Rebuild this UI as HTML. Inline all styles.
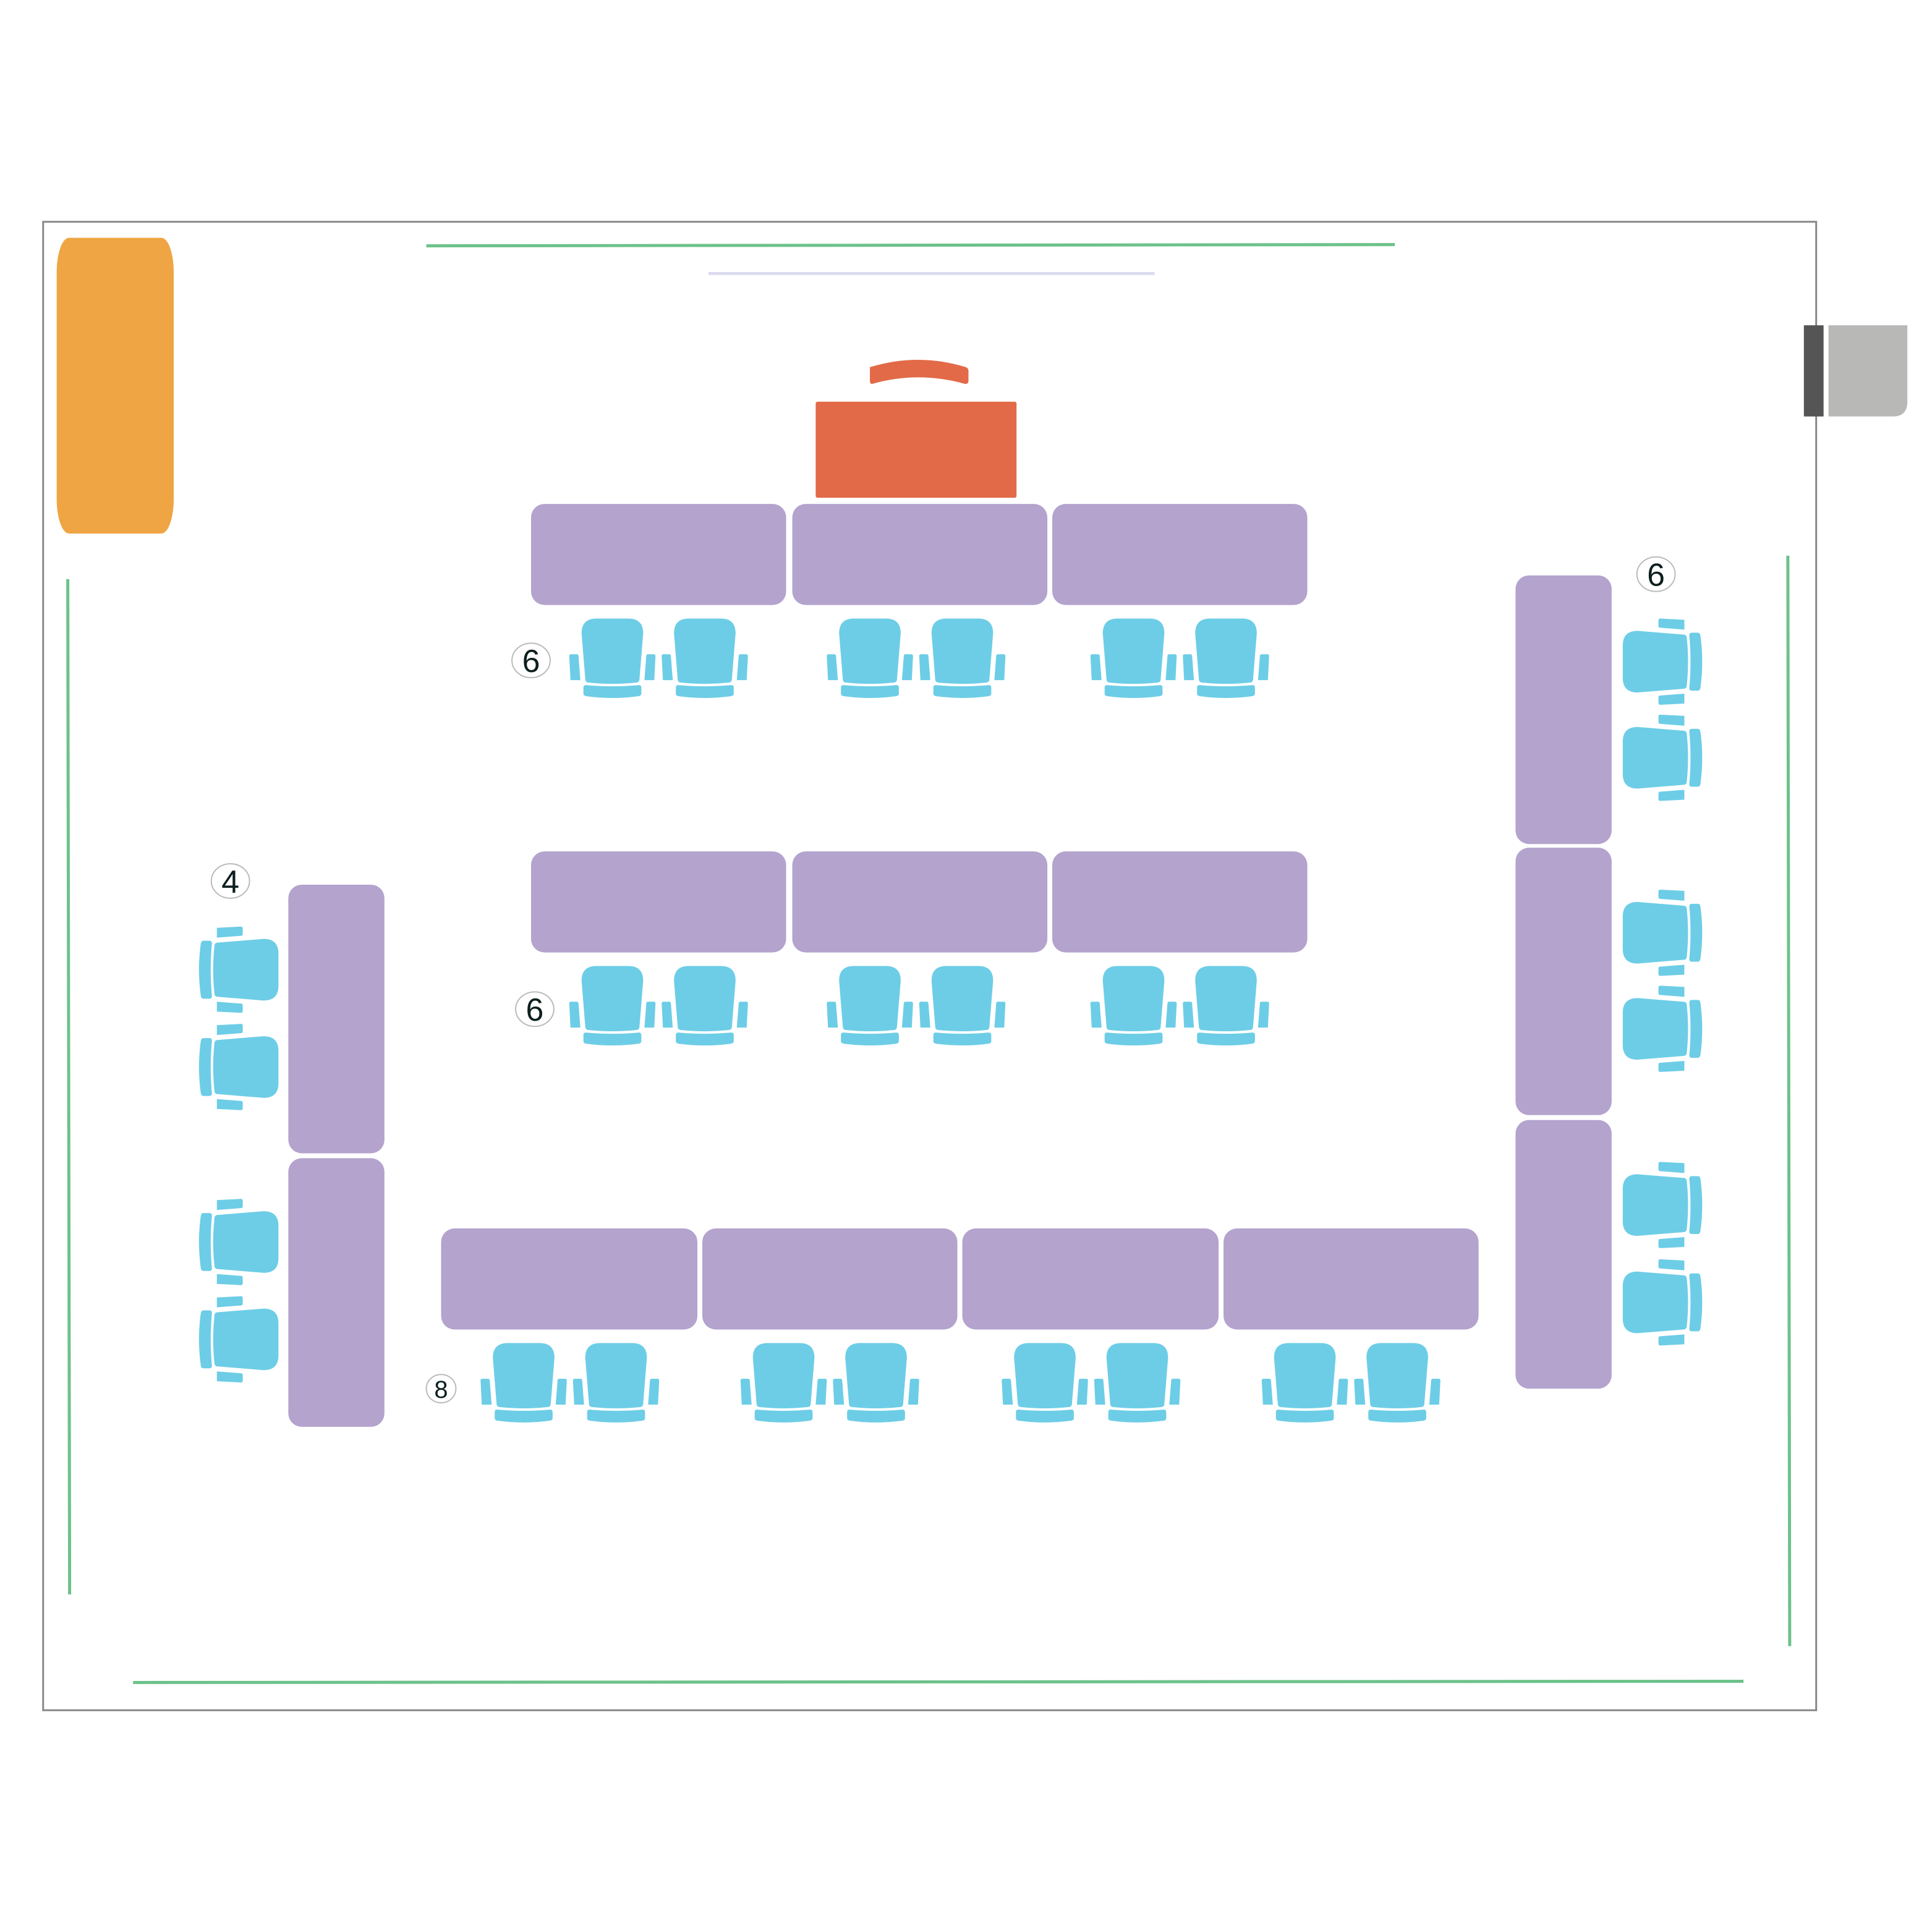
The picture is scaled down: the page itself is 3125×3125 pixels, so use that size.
<!DOCTYPE html>
<html><head><meta charset="utf-8"><style>html,body{margin:0;padding:0;background:#fff}svg{display:block}</style></head>
<body>
<svg width="3125" height="3125" viewBox="0 0 1562.5 1562.5" xmlns="http://www.w3.org/2000/svg">
<defs>
<g id="ch" fill="#6dcde6">
<path d="M-25,12 Q-25,0 -13,0 L13,0 Q25,0 25,12 L22,49 Q22,52 19,52 Q0,54 -19,52 Q-22,52 -22,49 Z"/>
<path d="M-35,30.5 Q-35,29 -33.5,29 L-29,29 Q-27.5,29 -27.5,30.5 L-26,50 L-34,50 Z"/>
<path d="M35,30.5 Q35,29 33.5,29 L29,29 Q27.5,29 27.5,30.5 L26,50 L34,50 Z"/>
<path d="M-23.5,56 Q-23.5,54 -21.5,54 Q0,56 21.5,54 Q23.5,54 23.5,56 L23.5,61 Q23.5,62.5 21.5,63 Q0,66 -21.5,63 Q-23.5,62.5 -23.5,61 Z"/>
</g>
<g id="pair"><use href="#ch" x="0"/><use href="#ch" x="75"/></g>
</defs>
<g transform="scale(0.9965)">
<rect x="35" y="180" width="1439" height="1208" fill="none" stroke="#888" stroke-width="1.5"/>
<g stroke="#6cc28a" stroke-width="2.5">
<line x1="346" y1="199.5" x2="1132" y2="198.5"/>
<line x1="55" y1="470" x2="56.5" y2="1294"/>
<line x1="1451" y1="451" x2="1452.5" y2="1336"/>
<line x1="108" y1="1365.5" x2="1415" y2="1364.5"/>
</g>
<line x1="575" y1="222" x2="937" y2="222" stroke="#dcdcef" stroke-width="2.5"/>
<path d="M56,193 L131,193 A10,28 0 0 1 141,221 L141,405 A10,28 0 0 1 131,433 L56,433 A10,28 0 0 1 46,405 L46,221 A10,28 0 0 1 56,193 Z" fill="#efa543"/>
<rect x="1464" y="264" width="16" height="74" fill="#555"/>
<path d="M1484,264 L1548,264 L1548,326 Q1548,338 1536,338 L1484,338 Z" fill="#b8b8b6"/>
<rect x="662" y="326" width="163" height="78" rx="1.5" fill="#e26a48"/>
<path d="M706,298 Q745,286 784,298 Q786,299 786,301 L786,309 Q786,312 783,311.5 Q745,301 708,311.5 Q706,312 706,309 L706,301 Q706,299 706,298 Z" fill="#e26a48"/>
<g fill="#b3a3cd">
<rect x="431" y="409" width="207" height="82" rx="11"/>
<rect x="643" y="409" width="207" height="82" rx="11"/>
<rect x="854" y="409" width="207" height="82" rx="11"/>
<rect x="431" y="691" width="207" height="82" rx="11"/>
<rect x="643" y="691" width="207" height="82" rx="11"/>
<rect x="854" y="691" width="207" height="82" rx="11"/>
<rect x="358" y="997" width="208" height="82" rx="11"/>
<rect x="570" y="997" width="207" height="82" rx="11"/>
<rect x="781" y="997" width="208" height="82" rx="11"/>
<rect x="993" y="997" width="207" height="82" rx="11"/>
<rect x="234" y="718" width="78" height="218" rx="11"/>
<rect x="234" y="940" width="78" height="218" rx="11"/>
<rect x="1230" y="467" width="78" height="218" rx="11"/>
<rect x="1230" y="688" width="78" height="217" rx="11"/>
<rect x="1230" y="909" width="78" height="218" rx="11"/>
</g>
<use href="#pair" x="497" y="502"/><use href="#pair" x="706" y="502"/><use href="#pair" x="920" y="502"/>
<use href="#pair" x="497" y="784"/><use href="#pair" x="706" y="784"/><use href="#pair" x="920" y="784"/>
<use href="#pair" x="425" y="1090"/><use href="#pair" x="636" y="1090"/><use href="#pair" x="848" y="1090"/><use href="#pair" x="1059" y="1090"/>
<use href="#ch" transform="translate(1317,537) rotate(-90)"/>
<use href="#ch" transform="translate(1317,615) rotate(-90)"/>
<use href="#ch" transform="translate(1317,757) rotate(-90)"/>
<use href="#ch" transform="translate(1317,835) rotate(-90)"/>
<use href="#ch" transform="translate(1317,978) rotate(-90)"/>
<use href="#ch" transform="translate(1317,1057) rotate(-90)"/>
<use href="#ch" transform="translate(226,787) rotate(90)"/>
<use href="#ch" transform="translate(226,866) rotate(90)"/>
<use href="#ch" transform="translate(226,1008) rotate(90)"/>
<use href="#ch" transform="translate(226,1087) rotate(90)"/>
<g fill="#fff" stroke="#bbb" stroke-width="1">
<ellipse cx="431" cy="536" rx="15.5" ry="14"/>
<ellipse cx="434" cy="819" rx="15.5" ry="14"/>
<ellipse cx="187" cy="715" rx="15.5" ry="14"/>
<ellipse cx="358" cy="1127" rx="12" ry="11.5"/>
<ellipse cx="1344" cy="466" rx="15.5" ry="14"/>
</g>
<g font-family="Liberation Sans, sans-serif" fill="#0d1f1f" text-anchor="middle">
<text x="431" y="545.5" font-size="26">6</text>
<text x="434" y="828.5" font-size="26">6</text>
<text x="187" y="724.5" font-size="26">4</text>
<text x="358" y="1134.5" font-size="20">8</text>
<text x="1344" y="475.5" font-size="26">6</text>
</g>
</g>
</svg>
</body></html>
